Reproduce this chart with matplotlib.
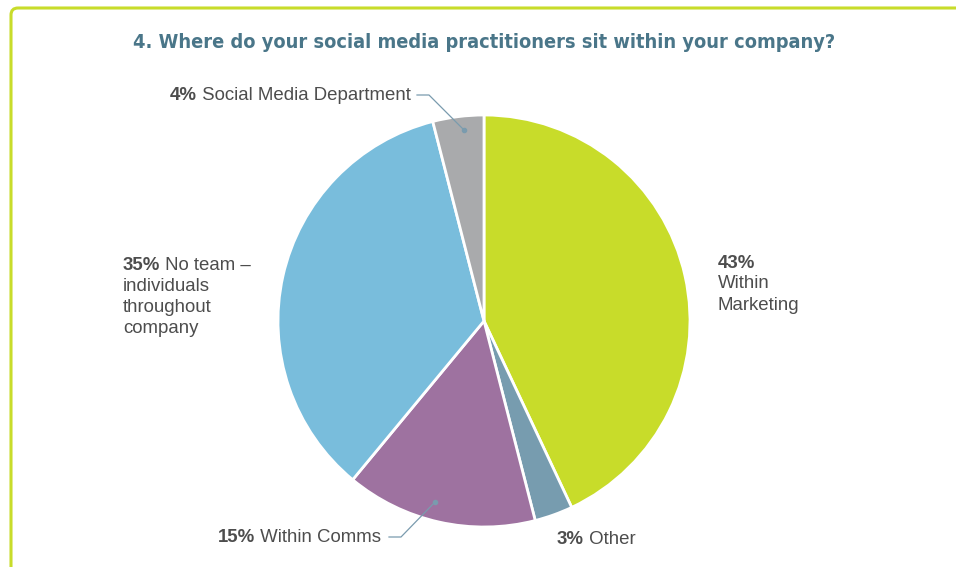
import matplotlib
matplotlib.use("Agg")
import matplotlib.pyplot as plt
from matplotlib.patches import FancyBboxPatch

plt.rcParams['font.family'] = ['Liberation Sans', 'DejaVu Sans']

# data
shares = [43, 3, 15, 35, 4]
pcts = ["43%", "3%", "15%", "35%", "4%"]
names = ["Within\nMarketing", "Other", "Within Comms",
         "No team \u2013\nindividuals\nthroughout\ncompany",
         "Social Media Department"]
colors = ['#C8DC2A', '#779CAF', '#9E72A0', '#79BDDC', '#A9AAAC']

W, H = 956, 567
TXT = '#4D4D4D'
LINE = '#7A9BAE'
FS = 13.4


def Y(py):
    # pixel row (from top) -> axes y
    return H - py


fig = plt.figure(figsize=(W / 100, H / 100), dpi=100)
ax = fig.add_axes([0, 0, 1, 1])
ax.axis('off')

# frame
box = FancyBboxPatch((11, -20), W + 20, Y(8) + 20,
                     boxstyle="round,pad=0,rounding_size=7",
                     fc='none', ec='#C8DC2A', lw=2.2)
ax.add_patch(box)

ax.text(484, Y(43), "4. Where do your social media practitioners sit within your company?",
        ha='center', va='center', fontsize=14.3, fontweight='bold',
        fontstretch='condensed', color='#4A7689',
        family=['DejaVu Sans'])

ax.pie(shares, colors=colors, startangle=90, counterclock=False,
       center=(484, Y(321)), radius=206,
       wedgeprops=dict(edgecolor='white', linewidth=2))
ax.set_xlim(0, W)
ax.set_ylim(0, H)
ax.set_aspect('auto')


def label(x, py, pct, rest):
    lines = rest.split("\n")
    t = ax.text(x, Y(py), pct, fontsize=FS, fontweight='bold', color=TXT,
                ha='left', va='center')
    ax.annotate(" " + lines[0], xy=(1, 0.5), xycoords=t, va='center',
                ha='left', fontsize=FS, color=TXT)
    for i, ln in enumerate(lines[1:]):
        ax.text(x, Y(py + 21.3 * (i + 1)), ln, fontsize=FS, color=TXT,
                ha='left', va='center')


# 43% Within Marketing (percent on its own line)
ax.text(718, Y(263), pcts[0], fontsize=FS, fontweight='bold', color=TXT,
        ha='left', va='center')
for i, ln in enumerate(names[0].split("\n")):
    ax.text(718, Y(284 + 21.3 * i), ln, fontsize=FS, color=TXT, va='center')

label(557, 540, pcts[1], names[1])
label(218, 537, pcts[2], names[2])
label(123, 265, pcts[3], names[3])
label(170, 95, pcts[4], names[4])

# leader lines
ax.plot([417, 429, 464], [Y(95), Y(95), Y(130)], color=LINE, lw=0.9)
ax.plot(464, Y(130), 'o', ms=3, color=LINE)
ax.plot([389, 401, 435], [Y(537), Y(537), Y(502)], color=LINE, lw=0.9)
ax.plot(435, Y(502), 'o', ms=3, color=LINE)

fig.savefig("out.png", dpi=100, facecolor='white')
